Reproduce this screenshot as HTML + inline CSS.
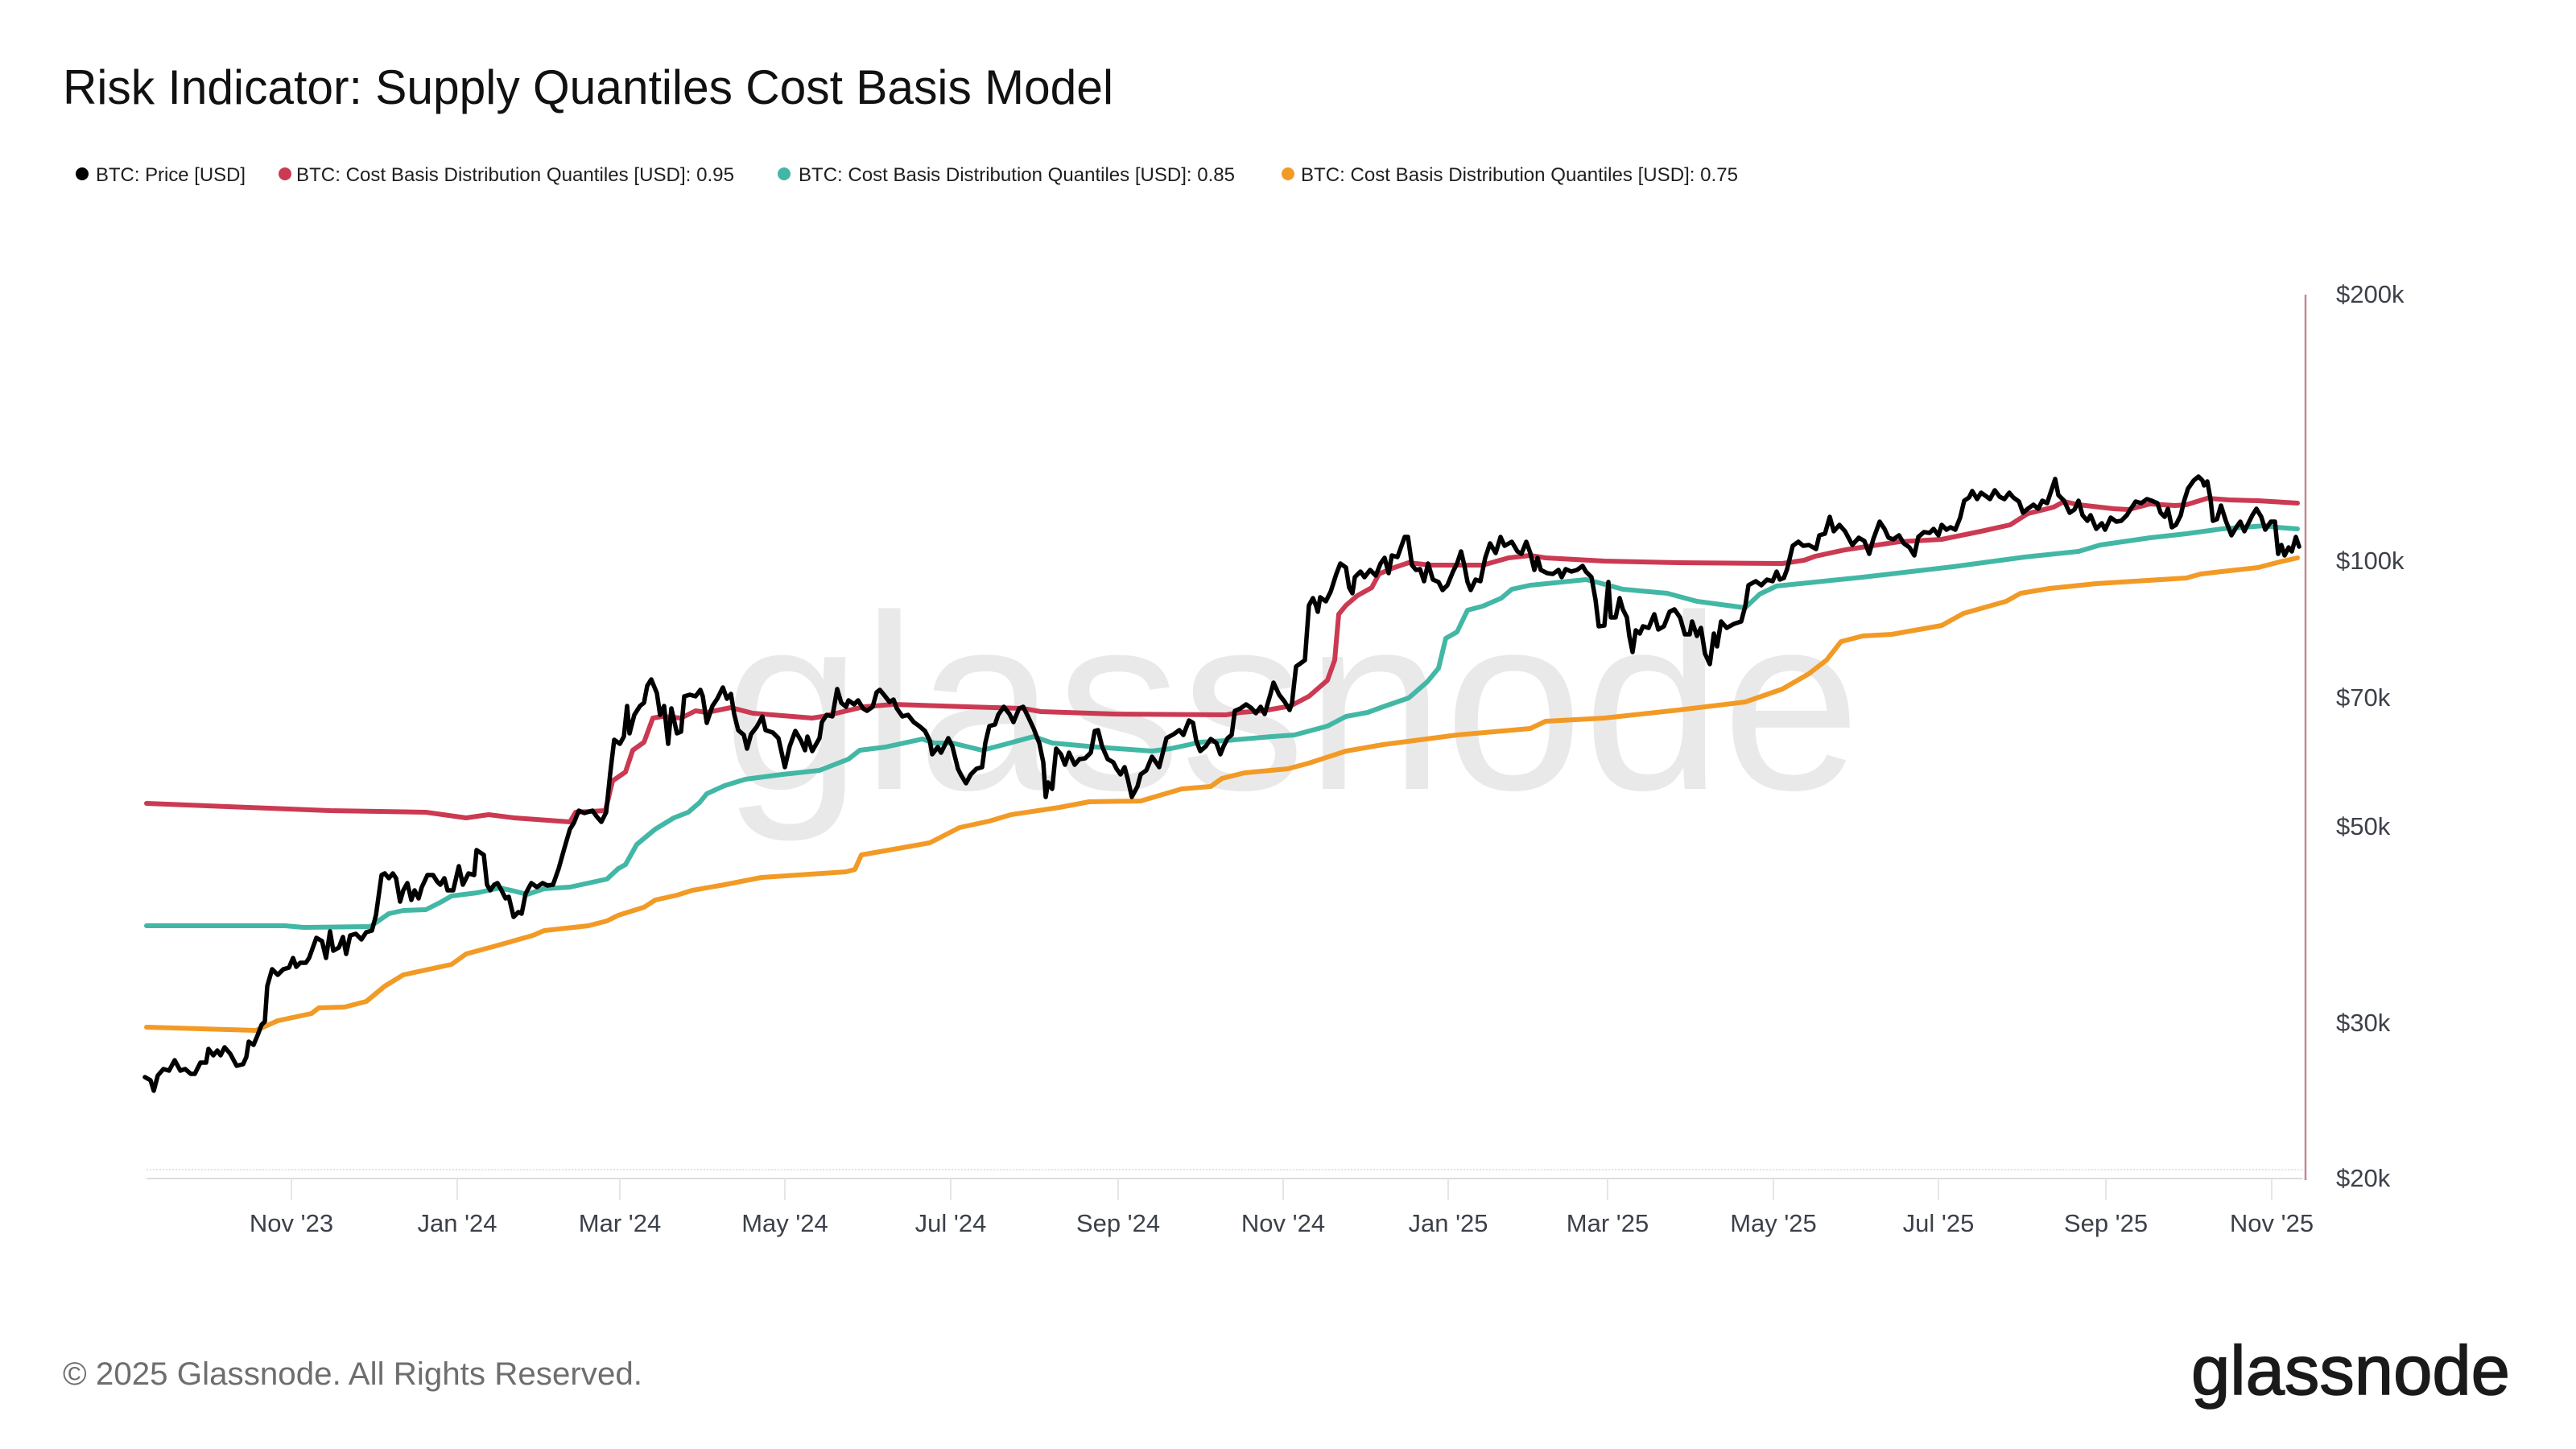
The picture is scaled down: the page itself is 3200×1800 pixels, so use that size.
<!DOCTYPE html>
<html>
<head>
<meta charset="utf-8">
<style>
html,body{margin:0;padding:0;background:#fff;}
body{width:3200px;height:1800px;overflow:hidden;}
svg{display:block;}
text{font-family:"Liberation Sans", Arial, sans-serif;}
</style>
</head>
<body>
<svg width="3200" height="1800" viewBox="0 0 3200 1800" xmlns="http://www.w3.org/2000/svg">
<rect width="3200" height="1800" fill="#ffffff"/>

<!-- Title -->
<text x="78" y="129" font-size="60" fill="#111111" textLength="1305" lengthAdjust="spacingAndGlyphs">Risk Indicator: Supply Quantiles Cost Basis Model</text>

<!-- Legend -->
<circle cx="102" cy="216" r="8" fill="#000000"/>
<text x="119" y="225" font-size="24" fill="#1e1e1e" textLength="186" lengthAdjust="spacingAndGlyphs">BTC: Price [USD]</text>
<circle cx="354" cy="216" r="8" fill="#cb3a52"/>
<text x="368" y="225" font-size="24" fill="#1e1e1e" textLength="544" lengthAdjust="spacingAndGlyphs">BTC: Cost Basis Distribution Quantiles [USD]: 0.95</text>
<circle cx="974" cy="216" r="8" fill="#43b7a5"/>
<text x="992" y="225" font-size="24" fill="#1e1e1e" textLength="542" lengthAdjust="spacingAndGlyphs">BTC: Cost Basis Distribution Quantiles [USD]: 0.85</text>
<circle cx="1600" cy="216" r="8" fill="#f29a26"/>
<text x="1616" y="225" font-size="24" fill="#1e1e1e" textLength="543" lengthAdjust="spacingAndGlyphs">BTC: Cost Basis Distribution Quantiles [USD]: 0.75</text>

<!-- Watermark -->
<text x="898" y="980" font-size="310" fill="#e9e9e9">glassnode</text>

<!-- Grid / axes -->
<line x1="182" y1="1453" x2="2860" y2="1453" stroke="#e3e3e3" stroke-width="2" stroke-dasharray="2,2"/>
<line x1="182" y1="1464" x2="2860" y2="1464" stroke="#dcdcdc" stroke-width="2"/>
<g stroke="#e6e6e6" stroke-width="2">
<line x1="362" y1="1464" x2="362" y2="1491"/>
<line x1="568" y1="1464" x2="568" y2="1491"/>
<line x1="770" y1="1464" x2="770" y2="1491"/>
<line x1="975" y1="1464" x2="975" y2="1491"/>
<line x1="1181" y1="1464" x2="1181" y2="1491"/>
<line x1="1389" y1="1464" x2="1389" y2="1491"/>
<line x1="1594" y1="1464" x2="1594" y2="1491"/>
<line x1="1799" y1="1464" x2="1799" y2="1491"/>
<line x1="1997" y1="1464" x2="1997" y2="1491"/>
<line x1="2203" y1="1464" x2="2203" y2="1491"/>
<line x1="2408" y1="1464" x2="2408" y2="1491"/>
<line x1="2616" y1="1464" x2="2616" y2="1491"/>
<line x1="2822" y1="1464" x2="2822" y2="1491"/>
</g>

<!-- Orange 0.75 -->
<polyline fill="none" stroke="#f29a26" stroke-width="6" stroke-linejoin="round" stroke-linecap="round" points="182,1276 318,1280 345,1268 387,1259 396,1252 428,1251 455,1244 478,1225 501,1211 561,1198 579,1185 616,1175 662,1162 676,1156 731,1150 754,1144 768,1137 800,1127 814,1118 841,1112 860,1106 900,1099 946,1090 1051,1083 1062,1080 1070,1062 1110,1055 1155,1047 1192,1028 1229,1020 1256,1012 1316,1003 1353,996 1417,995 1468,980 1504,977 1518,967 1546,960 1600,955 1626,948 1672,933 1718,925 1810,913 1901,905 1920,896 1993,892 2085,882 2168,872 2214,856 2247,837 2269,820 2287,797 2314,790 2350,788 2412,777 2439,762 2492,747 2510,737 2546,731 2604,725 2716,718 2734,713 2760,710 2805,705 2832,698 2854,693"/>

<!-- Teal 0.85 -->
<polyline fill="none" stroke="#43b7a5" stroke-width="6" stroke-linejoin="round" stroke-linecap="round" points="182,1150 354,1150 377,1152 460,1151 483,1135 501,1131 529,1130 547,1121 561,1113 593,1109 621,1103 639,1107 655,1111 676,1104 708,1102 754,1092 768,1079 777,1074 791,1049 814,1030 837,1016 855,1009 869,997 878,986 900,976 926,968 972,962 1018,957 1054,943 1068,932 1100,928 1146,918 1160,923 1183,923 1220,932 1247,925 1284,915 1307,923 1362,928 1431,933 1454,930 1491,922 1523,920 1580,915 1608,913 1649,902 1672,890 1699,885 1718,878 1750,867 1773,847 1787,830 1796,793 1810,785 1823,758 1842,753 1865,743 1878,732 1901,727 1970,720 1979,722 2016,732 2071,737 2108,747 2168,755 2186,738 2207,728 2314,717 2426,704 2515,692 2582,685 2609,677 2671,668 2716,663 2760,657 2814,653 2827,655 2854,657"/>

<!-- Red 0.95 -->
<polyline fill="none" stroke="#cb3a52" stroke-width="6" stroke-linejoin="round" stroke-linecap="round" points="182,998 410,1007 529,1009 579,1016 607,1012 639,1016 708,1021 715,1009 752,1007 761,970 777,959 786,932 800,922 811,892 823,890 846,892 864,883 878,885 908,879 935,886 1009,892 1022,890 1073,878 1110,875 1201,878 1270,880 1293,884 1385,887 1523,888 1541,885 1569,883 1603,877 1626,865 1649,845 1658,820 1663,763 1672,752 1686,740 1704,730 1713,713 1732,705 1750,699 1777,702 1842,702 1874,693 1901,690 1920,693 1993,697 2085,699 2214,700 2241,696 2255,691 2292,683 2359,673 2412,670 2461,660 2497,652 2519,638 2551,630 2564,623 2582,627 2626,632 2644,633 2671,626 2702,628 2716,627 2742,619 2769,621 2805,622 2854,625"/>

<!-- Price -->
<polyline fill="none" stroke="#000000" stroke-width="5.5" stroke-linejoin="round" stroke-linecap="round" points="180,1338 187,1342 191,1355 196,1336 203,1328 210,1330 217,1317 224,1330 230,1328 237,1334 242,1334 249,1320 256,1320 259,1303 265,1311 270,1305 274,1311 279,1301 286,1309 294,1324 302,1322 306,1313 309,1294 315,1298 320,1286 325,1273 329,1269 332,1225 338,1204 345,1211 352,1204 359,1202 364,1190 368,1201 373,1196 380,1196 384,1190 393,1165 400,1169 405,1190 410,1157 414,1181 421,1177 426,1164 430,1185 435,1162 442,1160 449,1167 455,1158 462,1156 467,1137 474,1087 478,1085 483,1091 488,1085 492,1091 497,1120 501,1106 506,1097 511,1118 515,1106 520,1116 524,1102 531,1087 538,1087 543,1095 547,1099 552,1091 556,1106 563,1106 570,1076 575,1099 582,1085 589,1087 592,1056 598,1060 601,1062 605,1099 609,1106 614,1099 618,1097 623,1106 628,1116 632,1114 638,1139 644,1133 648,1135 653,1110 660,1097 667,1102 674,1097 680,1100 687,1099 694,1079 701,1054 708,1030 713,1022 719,1007 726,1010 736,1007 741,1014 747,1021 753,1009 758,961 763,919 770,924 775,915 779,877 782,911 788,888 795,877 800,873 804,852 809,844 816,861 820,888 825,877 830,924 834,880 841,911 846,909 850,865 857,863 864,865 870,857 873,865 878,898 885,877 891,868 898,854 903,868 908,862 912,887 917,907 924,913 928,930 933,912 940,903 947,890 951,907 960,910 967,917 975,953 981,927 988,908 995,920 1000,932 1003,915 1009,933 1018,917 1021,897 1027,888 1034,890 1040,856 1045,873 1051,878 1054,870 1061,875 1066,870 1072,880 1077,883 1084,878 1089,860 1093,857 1098,863 1105,872 1110,869 1114,880 1121,890 1128,888 1135,897 1142,902 1149,908 1155,920 1158,937 1165,928 1169,935 1178,917 1183,927 1190,955 1194,963 1200,973 1206,962 1213,955 1220,953 1224,923 1229,902 1236,900 1240,888 1247,878 1254,887 1259,897 1266,880 1271,878 1277,890 1284,905 1291,923 1296,947 1299,990 1302,972 1307,980 1312,930 1318,937 1323,950 1328,935 1335,950 1341,943 1348,942 1355,935 1360,908 1364,907 1369,927 1376,943 1383,947 1387,955 1392,962 1397,953 1401,968 1406,990 1413,977 1417,962 1424,957 1431,940 1436,947 1440,953 1445,933 1449,917 1458,912 1465,907 1470,913 1477,895 1482,898 1486,920 1491,933 1498,927 1504,918 1511,923 1516,937 1520,927 1525,917 1530,913 1534,883 1541,880 1548,875 1555,880 1560,886 1566,878 1571,887 1578,863 1582,848 1589,863 1596,872 1602,882 1605,873 1610,828 1617,823 1621,820 1626,752 1631,743 1635,753 1637,760 1640,742 1647,747 1653,735 1660,713 1665,700 1672,705 1676,730 1680,737 1683,717 1690,710 1695,717 1702,708 1709,715 1715,700 1720,693 1725,712 1729,690 1736,692 1741,678 1745,667 1749,667 1754,702 1759,708 1764,707 1769,722 1774,700 1780,720 1787,723 1792,733 1798,727 1805,710 1810,700 1815,685 1819,702 1823,723 1827,733 1833,720 1839,722 1845,693 1851,675 1858,687 1864,667 1869,678 1878,673 1885,685 1890,688 1896,673 1901,687 1906,708 1910,693 1914,708 1922,712 1929,713 1936,708 1940,717 1945,707 1952,710 1959,708 1966,703 1970,710 1977,717 1982,745 1986,778 1993,777 1998,723 2001,767 2007,767 2012,743 2016,757 2021,767 2024,790 2028,810 2032,783 2037,787 2041,778 2048,780 2055,763 2060,782 2067,778 2074,760 2080,757 2087,767 2093,788 2099,788 2102,772 2108,790 2113,780 2118,812 2124,825 2129,787 2133,803 2138,772 2145,780 2154,775 2163,772 2168,753 2172,727 2181,722 2188,727 2195,720 2202,722 2207,710 2211,720 2216,718 2220,707 2227,678 2234,673 2240,678 2247,677 2256,682 2260,665 2267,663 2273,642 2278,660 2285,652 2292,660 2301,677 2309,668 2316,672 2322,688 2327,670 2335,648 2341,657 2346,668 2352,670 2359,665 2365,675 2372,680 2378,690 2383,667 2390,661 2397,662 2402,657 2408,665 2412,652 2418,658 2423,655 2429,658 2435,643 2440,622 2446,618 2450,610 2456,620 2461,612 2468,617 2472,620 2478,609 2484,617 2490,620 2496,612 2501,618 2508,623 2513,637 2519,632 2526,627 2532,632 2537,622 2543,625 2547,613 2553,595 2557,615 2564,622 2571,637 2577,633 2582,622 2587,640 2593,647 2597,640 2604,657 2611,650 2615,658 2622,643 2629,648 2635,647 2642,640 2647,632 2653,623 2660,625 2667,620 2673,622 2680,625 2684,637 2689,642 2693,632 2698,655 2703,652 2709,640 2713,623 2718,607 2725,597 2731,592 2736,597 2738,603 2742,598 2746,620 2749,647 2754,645 2759,628 2765,647 2772,665 2778,655 2783,648 2788,660 2794,648 2798,640 2803,632 2809,642 2814,658 2821,648 2826,648 2830,688 2834,677 2838,690 2843,680 2847,685 2852,667 2856,679"/>

<!-- Right axis line -->
<line x1="2864" y1="366" x2="2864" y2="1466" stroke="#c28893" stroke-width="2.5"/>

<!-- Y labels -->
<g font-size="31" fill="#3c4049">
<text x="2902" y="376">$200k</text>
<text x="2902" y="707">$100k</text>
<text x="2902" y="877">$70k</text>
<text x="2902" y="1037">$50k</text>
<text x="2902" y="1281">$30k</text>
<text x="2902" y="1474">$20k</text>
</g>

<!-- X labels -->
<g font-size="31" fill="#3c4049" text-anchor="middle">
<text x="362" y="1530">Nov '23</text>
<text x="568" y="1530">Jan '24</text>
<text x="770" y="1530">Mar '24</text>
<text x="975" y="1530">May '24</text>
<text x="1181" y="1530">Jul '24</text>
<text x="1389" y="1530">Sep '24</text>
<text x="1594" y="1530">Nov '24</text>
<text x="1799" y="1530">Jan '25</text>
<text x="1997" y="1530">Mar '25</text>
<text x="2203" y="1530">May '25</text>
<text x="2408" y="1530">Jul '25</text>
<text x="2616" y="1530">Sep '25</text>
<text x="2822" y="1530">Nov '25</text>
</g>

<!-- Footer -->
<text x="78" y="1720" font-size="40" fill="#6e6e6e" textLength="720" lengthAdjust="spacingAndGlyphs">© 2025 Glassnode. All Rights Reserved.</text>
<text x="2722" y="1732" font-size="86" fill="#1a1a1a" stroke="#1a1a1a" stroke-width="1.5" textLength="396" lengthAdjust="spacingAndGlyphs">glassnode</text>
</svg>
</body>
</html>
